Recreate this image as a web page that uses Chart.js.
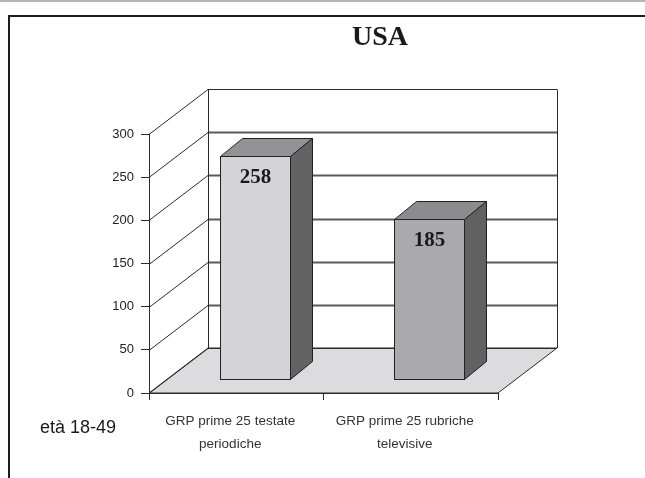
<!DOCTYPE html>
<html>
<head>
<meta charset="utf-8">
<script src="https://cdn.jsdelivr.net/npm/chart.js@4"></script>
<style>
  html, body { margin: 0; padding: 0; background: #fff; }
  canvas { display: block; }
</style>
</head>
<body>
<canvas id="grpChart" width="645" height="478"></canvas>
<script>
// categories and values
var categories = [['GRP prime 25 testate', 'periodiche'], ['GRP prime 25 rubriche', 'televisive']];
var grpValues = [258, 185];
var yMin = 0, yMax = 300, yStep = 50;

// draws the floor, back wall and the diagonal tick lines of the 3D box
var box3d = {
    id: 'box3d',
    beforeDatasetsDraw: function (chart) {
        var ctx = chart.ctx, a = chart.chartArea, y = chart.scales.y;
        var bx = 59, by = -45;
        var y0 = y.getPixelForValue(0);
        ctx.save();
        ctx.lineWidth = 1;
        ctx.strokeStyle = '#2a2a2a';
        // floor
        ctx.fillStyle = '#dcdcde';
        ctx.beginPath();
        ctx.moveTo(a.left, y0);
        ctx.lineTo(a.right, y0);
        ctx.lineTo(a.right + bx, y0 + by);
        ctx.lineTo(a.left + bx, y0 + by);
        ctx.closePath();
        ctx.fill();
        ctx.stroke();
        // gridlines on the back wall + diagonals
        y.ticks.forEach(function (t) {
            var py = Math.round(y.getPixelForValue(t.value)) + 0.5;
            var inner = t.value > yMin && t.value < yMax;
            ctx.lineWidth = 1;
            ctx.strokeStyle = '#2a2a2a';
            ctx.beginPath();
            ctx.moveTo(a.left, py);
            ctx.lineTo(a.left + bx, py + by);
            ctx.stroke();
            ctx.lineWidth = inner ? 2 : 1;
            ctx.strokeStyle = inner ? '#5a5a5a' : '#2a2a2a';
            ctx.beginPath();
            ctx.moveTo(a.left + bx, py + by);
            ctx.lineTo(a.right + bx, py + by);
            ctx.stroke();
        });
        // wall edges
        ctx.lineWidth = 1;
        ctx.strokeStyle = '#2a2a2a';
        var top = Math.round(y.getPixelForValue(yMax)) + 0.5;
        ctx.beginPath();
        ctx.moveTo(a.left + bx + 0.5, top + by);
        ctx.lineTo(a.left + bx + 0.5, y0 + by);
        ctx.moveTo(a.right + bx + 0.5, top + by);
        ctx.lineTo(a.right + bx + 0.5, y0 + by);
        ctx.stroke();
        ctx.restore();
    },
    afterDatasetsDraw: function (chart) {
        var ctx = chart.ctx;
        var ds = chart.data.datasets[0];
        var meta = chart.getDatasetMeta(0);
        var sx = 18.5, sy = -14;   // bars sit mid-depth on the floor
        var dx = 22, dy = -18;     // bar depth
        ctx.save();
        ctx.lineWidth = 1;
        ctx.strokeStyle = '#222';
        meta.data.forEach(function (bar, i) {
            var p = bar.getProps(['x', 'y', 'base', 'width'], true);
            var l = Math.round(p.x - p.width / 2 + sx) + 0.5;
            var r = Math.round(p.x + p.width / 2 + sx) + 0.5;
            var t = Math.round(p.y + sy) + 0.5;
            var b = Math.round(p.base + sy) + 0.5;
            // front
            ctx.fillStyle = ds.frontColors[i];
            ctx.fillRect(l, t, r - l, b - t);
            ctx.strokeRect(l, t, r - l, b - t);
            // top
            ctx.fillStyle = ds.topColors[i];
            ctx.beginPath();
            ctx.moveTo(l, t);
            ctx.lineTo(l + dx, t + dy);
            ctx.lineTo(r + dx, t + dy);
            ctx.lineTo(r, t);
            ctx.closePath();
            ctx.fill();
            ctx.stroke();
            // side
            ctx.fillStyle = ds.sideColors[i];
            ctx.beginPath();
            ctx.moveTo(r, t);
            ctx.lineTo(r + dx, t + dy);
            ctx.lineTo(r + dx, b + dy);
            ctx.lineTo(r, b);
            ctx.closePath();
            ctx.fill();
            ctx.stroke();
            // value
            ctx.fillStyle = '#1a1a1a';
            ctx.font = 'bold 21px "Liberation Serif", "Times New Roman", serif';
            ctx.textAlign = 'center';
            ctx.textBaseline = 'middle';
            ctx.fillText(String(grpValues[i]), (l + r) / 2, t + 21);
        });
        ctx.restore();
    },
    afterDraw: function (chart) {
        var ctx = chart.ctx;
        ctx.save();
        // page rule and frame
        ctx.fillStyle = '#b4b4b4';
        ctx.fillRect(0, 0, 645, 2);
        ctx.fillStyle = '#1e1e1e';
        ctx.fillRect(8, 15, 637, 2);
        ctx.fillRect(8, 15, 2, 463);
        // title
        ctx.fillStyle = '#1a1a1a';
        ctx.font = 'bold 28px "Liberation Serif", "Times New Roman", serif';
        ctx.textAlign = 'center';
        ctx.textBaseline = 'alphabetic';
        ctx.fillText('USA', 380, 45);
        // age group note
        ctx.font = '18px "Liberation Sans", Arial, sans-serif';
        ctx.textAlign = 'left';
        ctx.textBaseline = 'middle';
        ctx.fillText('età 18-49', 40, 428);
        ctx.restore();
    }
};

var ctx = document.getElementById('grpChart').getContext('2d');
var grpChart = new Chart(ctx, {
    type: 'bar',
    data: {
        labels: categories,
        datasets: [{
            data: grpValues,
            backgroundColor: 'rgba(0,0,0,0)',
            borderWidth: 0,
            barPercentage: 0.4,
            categoryPercentage: 1,
            frontColors: ['#d4d4d6', '#aaaaac'],
            topColors: ['#939395', '#8c8c8e'],
            sideColors: ['#636363', '#616161']
        }]
    },
    options: {
        responsive: false,
        animation: false,
        layout: { padding: { left: 0, right: 147, top: 134, bottom: 0 } },
        plugins: {
            legend: { display: false },
            tooltip: { enabled: false }
        },
        scales: {
            x: {
                afterFit: function (scale) { scale.height = 85; },
                grid: { drawOnChartArea: false, tickLength: 7, color: '#2a2a2a', offset: true },
                border: { color: '#2a2a2a' },
                ticks: {
                    color: '#333',
                    padding: 10,
                    labelOffset: -6,
                    maxRotation: 0,
                    font: { family: '"Liberation Sans", Arial, sans-serif', size: 13.5, lineHeight: 1.7 }
                }
            },
            y: {
                min: yMin,
                max: yMax,
                afterFit: function (scale) { scale.width = 149; },
                grid: { drawOnChartArea: false, tickLength: 8, color: '#2a2a2a' },
                border: { color: '#2a2a2a' },
                ticks: {
                    stepSize: yStep,
                    color: '#222',
                    padding: 7,
                    font: { family: '"Liberation Sans", Arial, sans-serif', size: 13 }
                }
            }
        }
    },
    plugins: [box3d]
});
</script>
</body>
</html>
